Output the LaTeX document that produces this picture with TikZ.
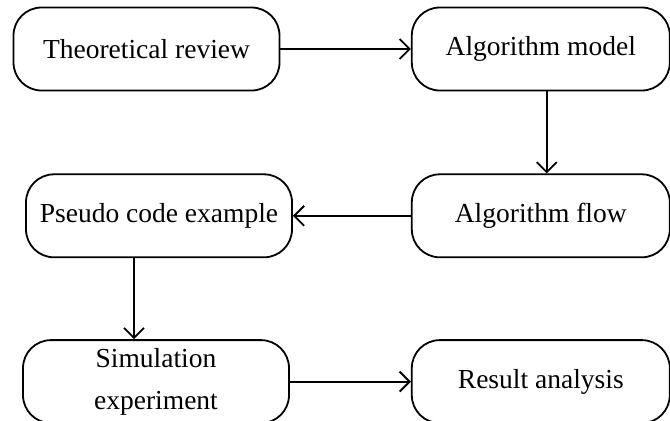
\documentclass[tikz,border=0pt]{standalone}
\usepackage{fontspec}
\setmainfont{Liberation Serif}
\usepackage{tikz}
\usetikzlibrary{arrows.meta, positioning}

\begin{document}
\begin{tikzpicture}[
 stepbox/.style={rectangle,rounded corners=14pt,draw=black,line width=0.9pt,
   minimum width=133pt,minimum height=41.5pt,inner sep=2pt,
   text centered,align=center},
 rightbox/.style={stepbox,minimum width=129pt},
 flowarrow/.style={-{Straight Barb[length=5pt,width=10pt]},line width=0.9pt},
 every node/.style={font=\fontsize{13.75pt}{21pt}\selectfont}]
 \useasboundingbox (0,0) rectangle (335pt,-210pt);
 \node[stepbox] (theo) at (73.25pt,-24.5pt) {Theoretical review};
 \node[rightbox,right=65.25pt of theo] (model) {Algorithm model};
 \node[rightbox,below=41pt of model] (flow) {Algorithm flow};
 \node[stepbox,left=59pt of flow] (pseudo) {Pseudo code example};
 \node[stepbox,below=40.5pt of pseudo,xshift=-1.5pt] (sim)
   {Simulation\\experiment};
 \node[rightbox,below=40.5pt of flow] (result) {Result analysis};
 \draw[flowarrow] (theo) -- (model);
 \draw[flowarrow] ([xshift=3pt]model.south) -- ([xshift=3pt]flow.north);
 \draw[flowarrow] (flow) -- (pseudo);
 \draw[flowarrow] ([xshift=-12.5pt]pseudo.south) --
   ([xshift=-12.5pt]pseudo.south |- sim.north);
 \draw[flowarrow] (sim) -- (result);
\end{tikzpicture}
\end{document}
